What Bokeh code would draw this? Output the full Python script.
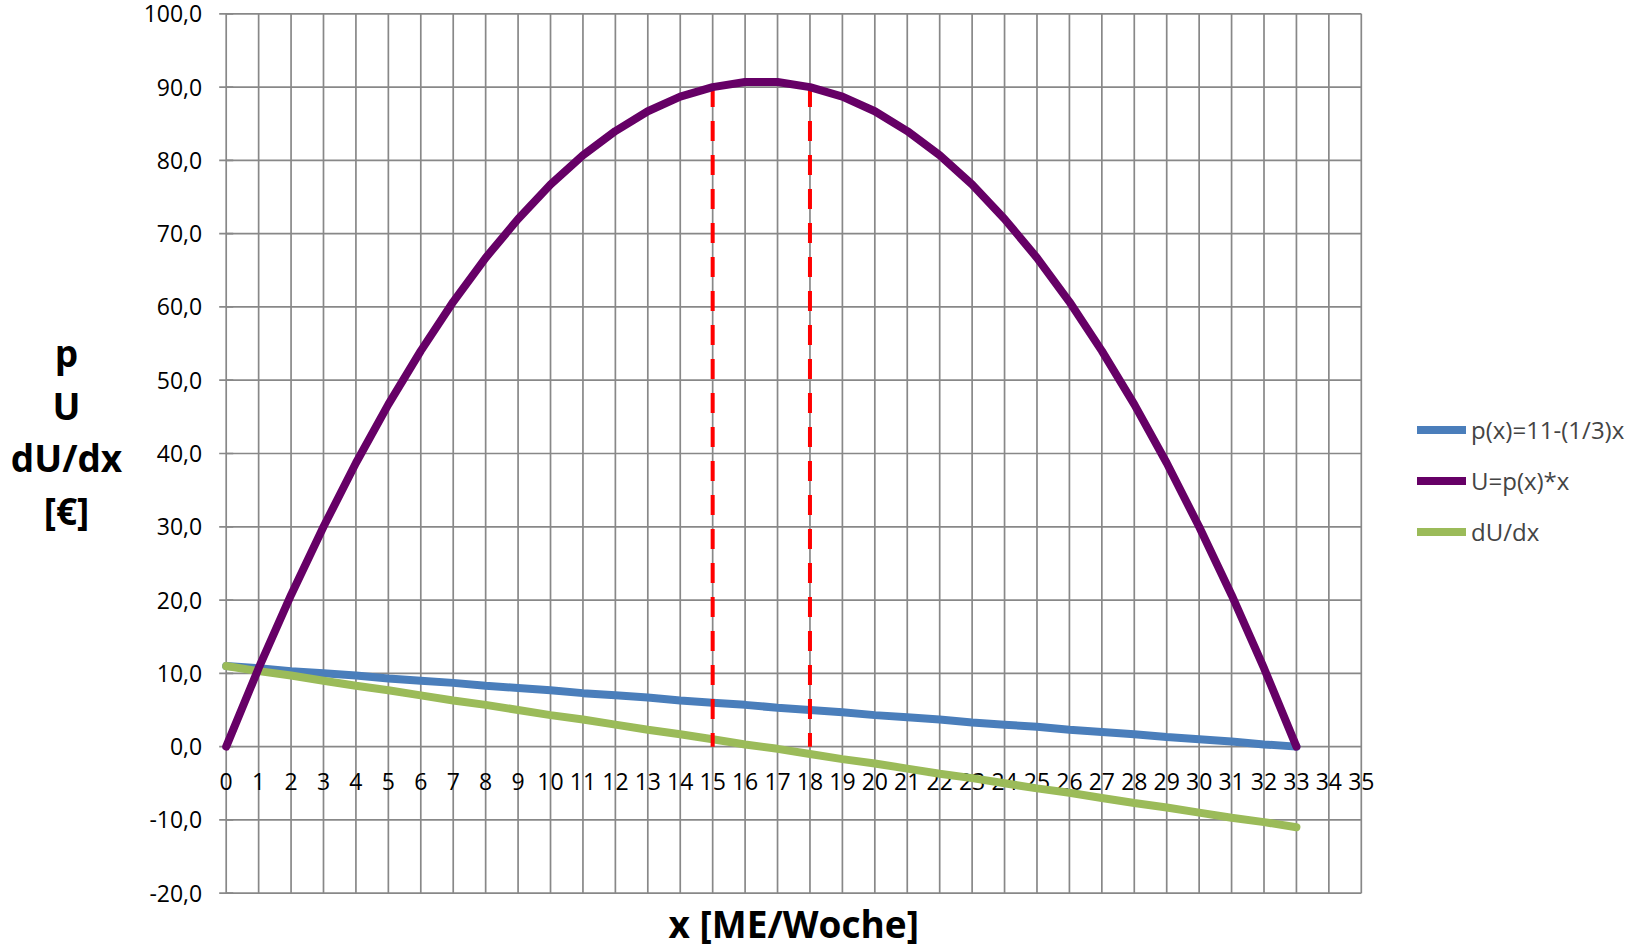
from bokeh.plotting import figure
from bokeh.models import Range1d, Legend, LegendItem
from bokeh.core.properties import value
from bokeh.embed import file_html
from bokeh.resources import INLINE

# ---- data ----
x_vals = list(range(34))
p_vals = [11.0, 10.7, 10.3, 10.0, 9.7, 9.3, 9.0, 8.7, 8.3, 8.0, 7.7, 7.3, 7.0, 6.7, 6.3, 6.0, 5.7,
          5.3, 5.0, 4.7, 4.3, 4.0, 3.7, 3.3, 3.0, 2.7, 2.3, 2.0, 1.7, 1.3, 1.0, 0.7, 0.3, 0.0]
U_vals = [0.0, 10.7, 20.7, 30.0, 38.7, 46.7, 54.0, 60.7, 66.7, 72.0, 76.7, 80.7, 84.0, 86.7, 88.7,
          90.0, 90.7, 90.7, 90.0, 88.7, 86.7, 84.0, 80.7, 76.7, 72.0, 66.7, 60.7, 54.0, 46.7, 38.7,
          30.0, 20.7, 10.7, 0.0]
dU_vals = [11.0, 10.3, 9.7, 9.0, 8.3, 7.7, 7.0, 6.3, 5.7, 5.0, 4.3, 3.7, 3.0, 2.3, 1.7, 1.0, 0.3,
           -0.3, -1.0, -1.7, -2.3, -3.0, -3.7, -4.3, -5.0, -5.7, -6.3, -7.0, -7.7, -8.3, -9.0,
           -9.7, -10.3, -11.0]
marker_x = [15, 18]
marker_U = [90.0, 90.0]
x_ticks = list(range(36))
y_ticks = [-20, -10, 0, 10, 20, 30, 40, 50, 60, 70, 80, 90, 100]
series_names = ["p(x)=11-(1/3)x", "U=p(x)*x", "dU/dx"]
y_title_lines = ["p", "U", "dU/dx", "[€]"]
x_title = "x [ME/Woche]"

# ---- layout (pixels on the canvas) ----
W, H = 1636, 945
X_LEFT_PX, X_RIGHT_PX = 225.7, 1360.8      # where the first / last x tick sits
Y_TOP_PX, Y_BOTTOM_PX = 13.3, 892.7        # where the top / bottom y tick sits
x_lo, x_hi = x_ticks[0], x_ticks[-1]
y_lo, y_hi = y_ticks[0], y_ticks[-1]
sx = (X_RIGHT_PX - X_LEFT_PX) / (x_hi - x_lo)
sy = (Y_BOTTOM_PX - Y_TOP_PX) / (y_hi - y_lo)
x_start = x_lo - X_LEFT_PX / sx
y_end = y_hi + Y_TOP_PX / sy


def px2x(px):
    return x_start + px / sx


def px2y(py):
    return y_end - py / sy


FONT = "Open Sans"
GRID = "#888888"

p = figure(width=W, height=H, output_backend="svg", toolbar_location=None,
           x_range=Range1d(x_start, x_start + W / sx), y_range=Range1d(y_end - H / sy, y_end),
           x_axis_location=None, y_axis_location=None, min_border=0)
p.grid.visible = False
p.outline_line_color = None

# grid
p.segment(x0=x_ticks, y0=[y_lo] * len(x_ticks), x1=x_ticks, y1=[y_hi] * len(x_ticks),
          line_color=GRID, line_width=1.7)
p.segment(x0=[x_lo] * len(y_ticks), y0=y_ticks, x1=[x_hi] * len(y_ticks), y1=y_ticks,
          line_color=GRID, line_width=1.7)
p.scatter(x=[x_lo] * len(y_ticks), y=y_ticks, marker="dash", size=14,
          line_color=GRID, line_width=1.7)

# tick labels
p.text(x=[x_lo] * len(y_ticks), y=y_ticks, text=[f"{v:.1f}".replace(".", ",") for v in y_ticks],
       text_font=value(FONT), text_font_size="23px", text_align="right",
       text_baseline="middle", x_offset=-24, text_color="black")
p.text(x=x_ticks, y=[0.0] * len(x_ticks), text=[str(t) for t in x_ticks],
       text_font=value(FONT), text_font_size="23px", text_align="center",
       text_baseline="middle", y_offset=35, text_color="black")

# series
r_p = p.line(x_vals, p_vals, line_color="#4a7ebb", line_width=8, line_cap="round", line_join="round")
r_d = p.line(x_vals, dU_vals, line_color="#9bbb59", line_width=8, line_cap="round", line_join="round")
p.segment(x0=marker_x, y0=marker_U, x1=marker_x, y1=[0.0] * len(marker_x),
          line_color="#ff0000", line_width=4, line_dash="20 14")
r_U = p.line(x_vals, U_vals, line_color="#660066", line_width=8, line_cap="round", line_join="round")

# axis titles
p.text(x=[px2x(66)] * len(y_title_lines), y=[px2y(b) for b in (352, 405, 457, 510)],
       text=y_title_lines, text_font=value(FONT), text_font_style="bold", text_font_size="37px",
       text_align="center", text_baseline="alphabetic", text_color="black")
p.text(x=[(x_lo + x_hi) / 2], y=[px2y(923)], text=[x_title], text_font=value(FONT),
       text_font_style="bold", text_font_size="37px", text_align="center",
       text_baseline="alphabetic", text_color="black")

legend = Legend(items=[LegendItem(label=series_names[0], renderers=[r_p]),
                       LegendItem(label=series_names[1], renderers=[r_U]),
                       LegendItem(label=series_names[2], renderers=[r_d])],
                location=(1417, 397), orientation="vertical",
                glyph_width=49, glyph_height=31, label_height=31, spacing=18,
                padding=0, margin=0, border_line_alpha=0, background_fill_alpha=0,
                label_text_font=FONT, label_text_font_size="24px", label_standoff=5)
p.add_layout(legend)

open("out.html", "w").write(file_html(p, INLINE))
